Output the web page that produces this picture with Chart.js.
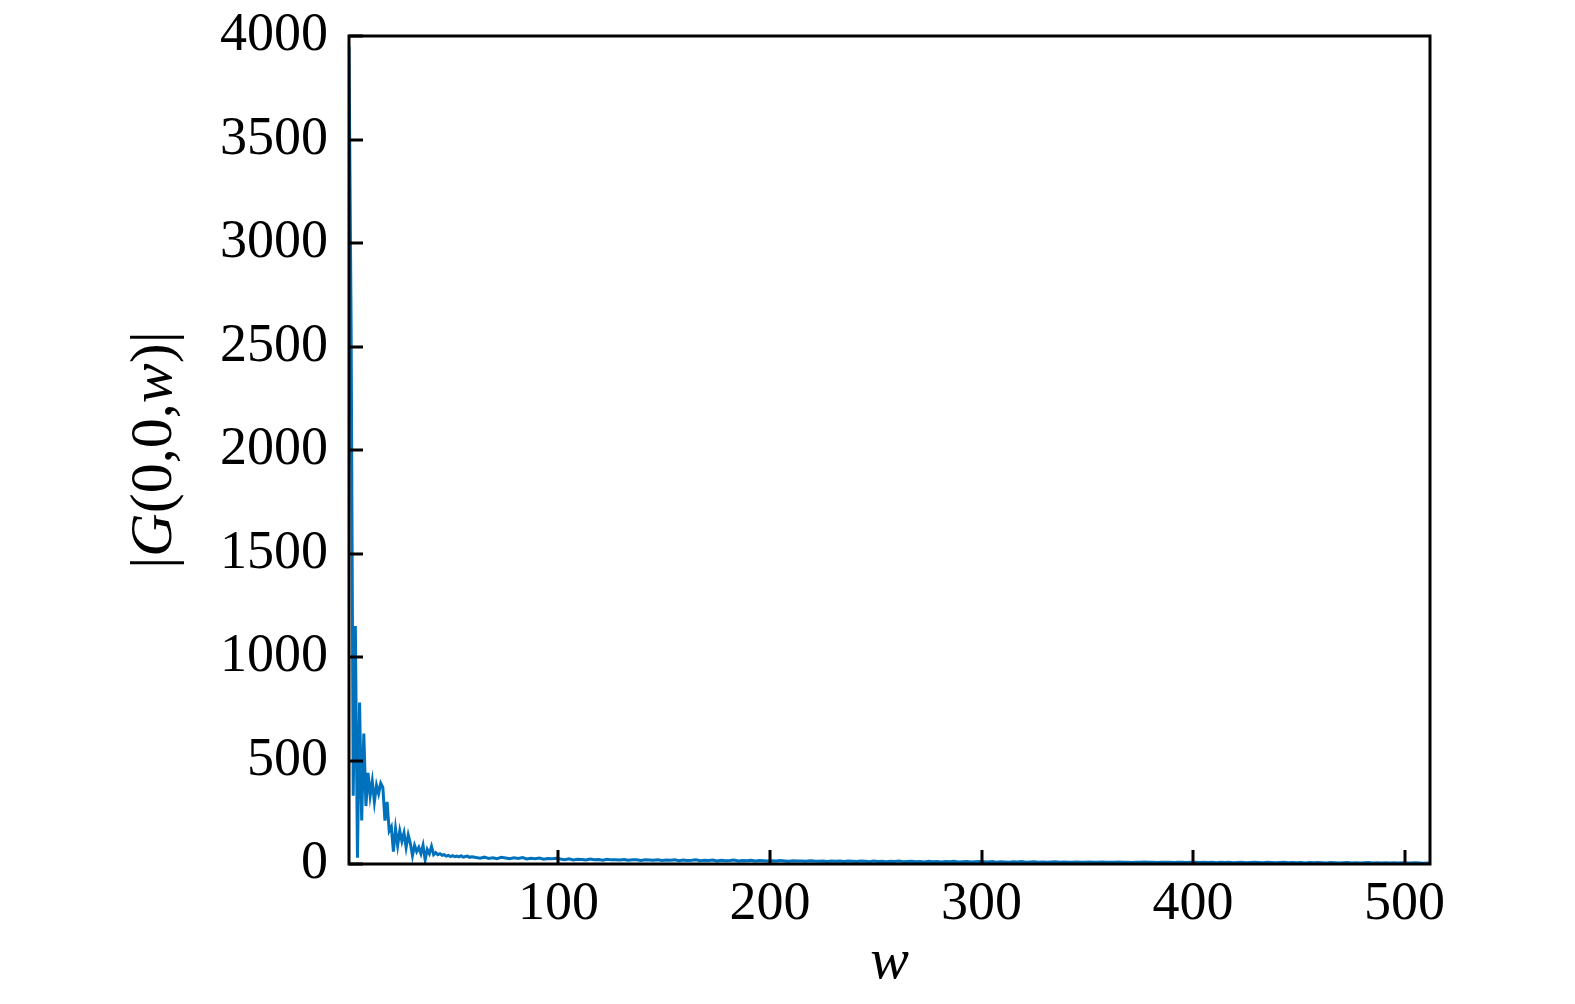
<!DOCTYPE html>
<html><head><meta charset="utf-8">
<script src="https://cdn.jsdelivr.net/npm/chart.js@4"></script>
<style>html,body{margin:0;padding:0;background:#fff;}#wrap{width:1575px;height:1004px;}</style>
</head><body><div id="wrap"><canvas id="c" width="1575" height="1004"></canvas></div>
<script>
// tick labels
const xTickLabels = [100, 200, 300, 400, 500];
const yTickLabels = [0, 500, 1000, 1500, 2000, 2500, 3000, 3500, 4000];

// |G(0,0,w)| for w = 1 .. 60 (every sample)
const gHead = [3950, 2600, 330, 1150, 30, 780, 210, 630, 280, 440,
  330, 400, 300, 380, 340, 390, 370, 210, 300, 160,
  180, 60, 170, 90, 160, 110, 150, 80, 140, 100,
  40, 90, 60, 80, 50, 90, 20, 70, 50, 85,
  45, 55, 45, 50, 42, 45, 38, 42, 36, 40,
  35, 38, 34, 40, 33, 36, 38, 32, 35, 34];

// |G(0,0,w)| for w = 61, 63, ..., 511, then 512
const gTail = [31, 28, 33, 27, 30, 26, 32, 29, 25, 30, 27, 31, 24, 28, 26, 29, 23, 27, 25, 28,
  24, 21, 25, 20, 23, 22, 19, 24, 21, 22, 18, 23, 20, 21, 19, 22, 18, 20, 21, 17,
  20, 19, 18, 21, 17, 19, 18, 20, 16, 19, 17, 18, 20, 16, 18, 17, 19, 15, 18, 16,
  17, 19, 15, 17, 16, 18, 15, 17, 16, 15,
  16, 14, 17, 15, 13, 16, 14, 15, 13, 16, 14, 13, 15, 12, 14, 13, 15, 12, 14, 13,
  12, 14, 13, 11, 14, 12, 13, 11, 13, 12, 14, 11, 12, 13, 11, 12, 10, 13, 11, 12,
  10, 12, 11, 13, 10, 11, 12, 10, 11, 12,
  11, 10, 12, 9, 11, 10, 9, 11, 10, 12, 9, 10, 11, 9, 10, 8, 10, 11, 9, 10,
  8, 9, 10, 9, 8, 10, 9, 8, 10, 9, 8, 9, 10, 8, 9, 7, 9, 8, 10, 8,
  9, 7, 8, 9, 8, 7, 9, 8, 7, 8,
  8, 7, 9, 7, 8, 6, 8, 7, 8, 6, 7, 8, 6, 7, 8, 7, 6, 8, 7, 6,
  7, 8, 6, 7, 6, 7, 5, 7, 6, 7, 6, 5, 7, 6, 5, 6, 7, 5, 6, 5,
  6, 7, 5, 6, 5, 6, 5, 6, 5, 6, 5, 5, 6, 5, 4, 5,
  5];

// sample positions w
const wValues = [];
for (let w = 1; w <= 60; w++) wValues.push(w);
for (let w = 61; w <= 511; w += 2) wValues.push(w);
wValues.push(512);
const gValues = gHead.concat(gTail);

const points = wValues.map((w, i) => ({x: w, y: gValues[i]}));

const FONT = "'Liberation Serif', 'Times New Roman', serif";
const FS = 54;
const TFS = 60;

const framePlugin = {
  id: 'frame',
  afterDatasetsDraw(chart) {
    const {ctx, chartArea: a, scales} = chart;
    ctx.save();
    ctx.strokeStyle = '#000';
    ctx.lineWidth = 3;
    ctx.lineCap = 'butt';
    const tl = 14;
    ctx.beginPath();
    scales.x.ticks.forEach(t => {
      const px = Math.round(scales.x.getPixelForValue(t.value));
      ctx.moveTo(px, a.bottom); ctx.lineTo(px, a.bottom - tl);
    });
    scales.y.ticks.forEach(t => {
      const py = Math.round(scales.y.getPixelForValue(t.value));
      ctx.moveTo(a.left, py); ctx.lineTo(a.left + tl, py);
    });
    ctx.stroke();
    ctx.strokeRect(a.left, a.top, a.right - a.left, a.bottom - a.top);

    // y axis title with mixed upright / italic parts
    const parts = [['|', false], ['G', true], ['(0,0,', false], ['w', true], [')|', false]];
    let total = 0;
    const widths = parts.map(([s, it]) => {
      ctx.font = (it ? 'italic ' : '') + TFS + 'px ' + FONT;
      const w = ctx.measureText(s).width; total += w; return w;
    });
    ctx.translate(155, (a.top + a.bottom) / 2);
    ctx.rotate(-Math.PI / 2);
    ctx.fillStyle = '#000';
    ctx.textBaseline = 'middle';
    ctx.textAlign = 'left';
    let x0 = -total / 2;
    parts.forEach(([s, it], i) => {
      ctx.font = (it ? 'italic ' : '') + TFS + 'px ' + FONT;
      ctx.fillText(s, x0, 0);
      x0 += widths[i];
    });
    ctx.restore();
  }
};

new Chart(document.getElementById('c'), {
  type: 'line',
  data: {
    datasets: [{
      data: points,
      borderColor: '#0072BD',
      borderWidth: 3,
      pointRadius: 0,
      tension: 0,
      fill: false
    }]
  },
  options: {
    responsive: false,
    animation: false,
    events: [],
    layout: {padding: {top: 36, right: 145, left: 0, bottom: 0}},
    plugins: {legend: {display: false}, tooltip: {enabled: false}},
    scales: {
      x: {
        type: 'linear', min: 1, max: 512,
        afterBuildTicks: s => { s.ticks = xTickLabels.map(v => ({value: v})); },
        afterFit: s => { s.height = 140; s.paddingLeft = 0; s.paddingRight = 0; },
        grid: {display: false, drawTicks: false},
        border: {display: false},
        ticks: {color: '#000', padding: 8, maxRotation: 0, callback: v => String(v),
          font: {family: FONT, size: FS}},
        title: {display: true, text: 'w', color: '#000', padding: {top: 0, bottom: 6},
          font: {family: FONT, size: 58, style: 'italic'}}
      },
      y: {
        type: 'linear', min: 0, max: 4000,
        afterBuildTicks: s => { s.ticks = yTickLabels.map(v => ({value: v})); },
        afterFit: s => { s.width = 349; s.paddingTop = 0; s.paddingBottom = 0; },
        grid: {display: false, drawTicks: false},
        border: {display: false},
        ticks: {color: '#000', padding: 21, callback: v => String(v),
          font: {family: FONT, size: FS}}
      }
    }
  },
  plugins: [framePlugin]
});
</script>
</body></html>
